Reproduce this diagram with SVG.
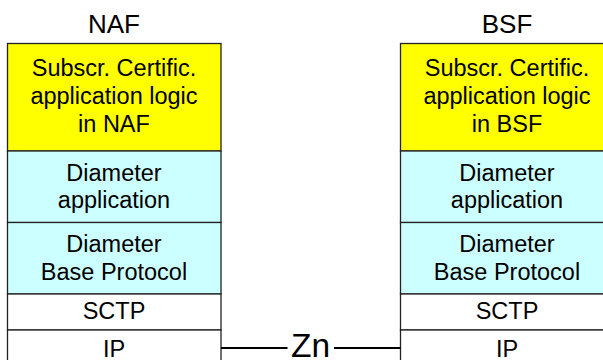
<svg xmlns="http://www.w3.org/2000/svg" width="603" height="360" viewBox="0 0 603 360">
<style>
text{font-family:"Liberation Sans",Arial,sans-serif;fill:#000;text-anchor:middle}
.t{font-size:26px}
.b{font-size:23.5px}
.z{font-size:33.5px}
rect{stroke:#222;stroke-width:1.3}
.y{fill:#FFFF00}
.c{fill:#CCFFFF}
.w{fill:#FFFFFF}
.ln{stroke:#000;stroke-width:2;fill:none}
</style>
<rect x="0" y="0" width="603" height="360" fill="#fff" style="stroke:none"/>
<g id="naf">
<text class="t" x="114" y="33">NAF</text>
<g id="naf-app"><rect class="y" x="7.5" y="43.5" width="213.5" height="107.5"/>
<text class="b" x="114" y="75.5">Subscr. Certific.</text>
<text class="b" x="114" y="103.5">application logic</text>
<text class="b" x="114" y="131.5">in NAF</text></g>
<g id="naf-diam-app"><rect class="c" x="7.5" y="151" width="213.5" height="71.5"/>
<text class="b" x="114" y="180.5">Diameter</text>
<text class="b" x="114" y="208">application</text></g>
<g id="naf-diam-base"><rect class="c" x="7.5" y="222.5" width="213.5" height="71.5"/>
<text class="b" x="114" y="251.5">Diameter</text>
<text class="b" x="114" y="279.5">Base Protocol</text></g>
<g id="naf-sctp"><rect class="w" x="7.5" y="294" width="213.5" height="36"/>
<text class="b" x="114" y="319">SCTP</text></g>
<g id="naf-ip"><rect class="w" x="7.5" y="330" width="213.5" height="40"/>
<text class="b" x="114" y="357">IP</text></g>
</g>
<g id="bsf">
<text class="t" x="507" y="33">BSF</text>
<g id="bsf-app"><rect class="y" x="400.5" y="43.5" width="213.5" height="107.5"/>
<text class="b" x="507" y="75.5">Subscr. Certific.</text>
<text class="b" x="507" y="103.5">application logic</text>
<text class="b" x="507" y="131.5">in BSF</text></g>
<g id="bsf-diam-app"><rect class="c" x="400.5" y="151" width="213.5" height="71.5"/>
<text class="b" x="507" y="180.5">Diameter</text>
<text class="b" x="507" y="208">application</text></g>
<g id="bsf-diam-base"><rect class="c" x="400.5" y="222.5" width="213.5" height="71.5"/>
<text class="b" x="507" y="251.5">Diameter</text>
<text class="b" x="507" y="279.5">Base Protocol</text></g>
<g id="bsf-sctp"><rect class="w" x="400.5" y="294" width="213.5" height="36"/>
<text class="b" x="507" y="319">SCTP</text></g>
<g id="bsf-ip"><rect class="w" x="400.5" y="330" width="213.5" height="40"/>
<text class="b" x="507" y="357">IP</text></g>
</g>
<g id="connectors">
<line class="ln" x1="221" y1="348" x2="287.5" y2="348"/>
<line class="ln" x1="334" y1="348" x2="400.5" y2="348"/>
<text class="z" x="310.5" y="357">Zn</text>
</g>
</svg>
